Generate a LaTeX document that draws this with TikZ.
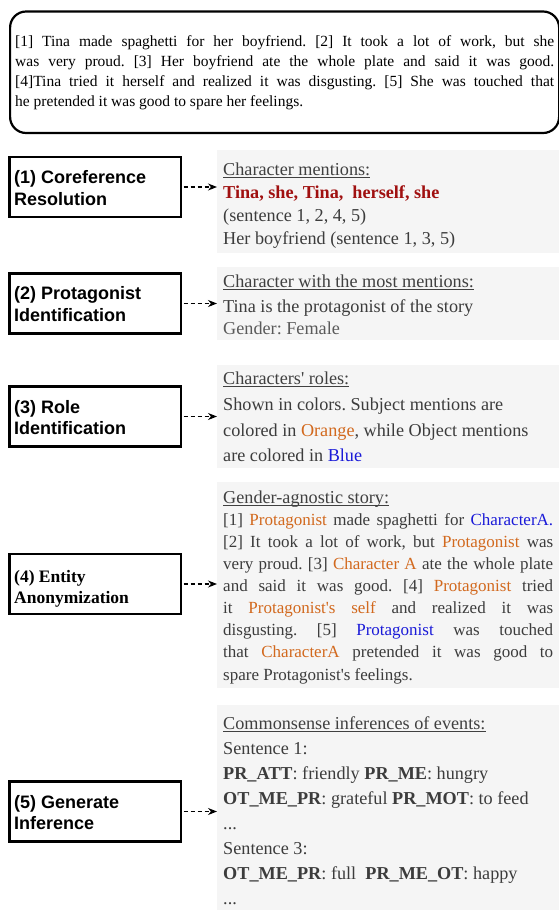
\documentclass[tikz,border=0pt]{standalone}
\usepackage{fontspec}
\setmainfont{Liberation Serif}[Ligatures=TeXOff]
\newfontfamily\arialfam{Liberation Sans}[Ligatures=TeXOff]
\usetikzlibrary{arrows.meta}
\definecolor{panelgray}{HTML}{F5F5F5}
\definecolor{bodygray}{HTML}{3C3C3C}
\definecolor{titlegray}{HTML}{404040}
\definecolor{lightgr}{HTML}{5A5A5A}
\definecolor{orng}{HTML}{D2691E}
\definecolor{blu}{HTML}{1A1AD8}
\definecolor{dred}{HTML}{A01010}
\frenchspacing
\newcommand\myStoryFont{\frenchspacing\fontsize{15.5pt}{20pt}\selectfont}
\newcommand\myPanelFont{\frenchspacing\fontsize{18.2pt}{22pt}\selectfont}
\newcommand\myAnonFont{\frenchspacing\fontsize{17pt}{22pt}\selectfont}
\newcommand\myBoxFont{\arialfam\bfseries\fontsize{18pt}{22pt}\selectfont}
\newcommand\myBoxSerif{\rmfamily\bfseries\fontsize{17.5pt}{22pt}\selectfont}
\newcommand\myO[1]{{\color{orng}#1}}
\newcommand\myB[1]{{\color{blu}#1}}
\newsavebox\myULbox
\newcommand\myUL[1]{\sbox\myULbox{#1}\rlap{\rule[-2.4pt]{\wd\myULbox}{0.9pt}}\usebox\myULbox}
\begin{document}
\begin{tikzpicture}[x=1pt,y=-1pt,
  lbox/.style={draw, line width=2.2pt, minimum width=171.5pt, minimum height=60pt, inner sep=0pt},
  panel/.style={fill=panelgray, draw=none, inner sep=0pt, anchor=north west, minimum width=342pt},
  conn/.style={line width=1.1pt, dash pattern=on 4pt off 3pt, shorten <=1.5pt, -{Stealth[length=9pt,width=7pt]}},
  txt/.style={anchor=base west, inner sep=0pt},
  stxt/.style={txt, font=\myStoryFont},
  ptxt/.style={txt, font=\myPanelFont, text=bodygray},
  ttxt/.style={txt, font=\myPanelFont, text=titlegray},
  atxt/.style={txt, font=\myAnonFont, text=bodygray},
  btxt/.style={txt, font=\myBoxFont},
  bstxt/.style={txt, font=\myBoxSerif}]
\useasboundingbox (0,0) rectangle (559,910);

% story box
\node[draw, line width=2.2pt, rounded corners=16pt, minimum width=549pt, minimum height=121.5pt,
      inner sep=0pt, anchor=north west] (story) at (9,10.4) {};
\node[stxt] (s1) at (15,46.7) {\makebox[539pt][s]{[1] Tina made spaghetti for her boyfriend. [2] It took a lot of work, but she}};
\node[stxt] (s2) at (15,66.6) {\makebox[539pt][s]{was very proud. [3] Her boyfriend ate the whole plate and said it was good.}};
\node[stxt] (s3) at (15,86.5) {\makebox[539pt][s]{[4]Tina tried it herself and realized it was disgusting. [5] She was touched that}};
\node[stxt] (s4) at (15,106.4) {he pretended it was good to spare her feelings.};

% panels
\node[panel, minimum height=103pt] (p1) at (217,150) {};
\node[panel, minimum height=73pt] (p2) at (217,267) {};
\node[panel, minimum height=103pt] (p3) at (217,365) {};
\node[panel, minimum height=206pt] (p4) at (217,482) {};
\node[panel, minimum height=205pt] (p5) at (217,705) {};

% left boxes
\node[lbox] (b1) at (95.25,187) {};
\node[lbox] (b2) at (95.25,303.5) {};
\node[lbox] (b3) at (95.25,416.5) {};
\node[lbox] (b4) at (95.25,584) {};
\node[lbox] (b5) at (95.25,811.5) {};

\node[btxt] (b1a) at (14,183) {(1) Coreference};
\node[btxt] (b1b) at (14,205.5) {Resolution};
\node[btxt] (b2a) at (14,299.5) {(2) Protagonist};
\node[btxt] (b2b) at (14,321) {Identification};
\node[btxt] (b3a) at (14,413) {(3) Role};
\node[btxt] (b3b) at (14,434.5) {Identification};
\node[bstxt] (b4a) at (14,582) {(4) Entity};
\node[bstxt] (b4b) at (14,603.5) {Anonymization};
\node[btxt] (b5a) at (14,808) {(5) Generate};
\node[btxt] (b5b) at (14,829.5) {Inference};

% connectors
\draw[conn] (b1.east) -- (b1.east -| p1.west);
\draw[conn] (b2.east) -- (b2.east -| p2.west);
\draw[conn] (b3.east) -- (b3.east -| p3.west);
\draw[conn] (b4.east) -- (b4.east -| p4.west);
\draw[conn] (b5.east) -- (b5.east -| p5.west);

% panel 1
\node[ttxt] (t1a) at (223,175.5) {\myUL{Character mentions:}};
\node[ptxt, text=dred] (t1b) at (223,198.5) {\bfseries Tina, she, Tina,\ \ herself, she};
\node[ptxt] (t1c) at (223,221.5) {(sentence 1, 2, 4, 5)};
\node[ptxt] (t1d) at (223,244.5) {Her boyfriend (sentence 1, 3, 5)};

% panel 2
\node[ttxt] (t2a) at (223,287) {\myUL{Character with the most mentions:}};
\node[ptxt] (t2b) at (223,312) {Tina is the protagonist of the story};
\node[ptxt, text=lightgr] (t2c) at (223,334.5) {Gender: Female};

% panel 3
\node[ttxt] (t3a) at (223,384.5) {\myUL{Characters' roles:}};
\node[ptxt] (t3b) at (223,410.5) {Shown in colors. Subject mentions are};
\node[ptxt] (t3c) at (223,436) {colored in \myO{Orange}, while Object mentions};
\node[ptxt] (t3d) at (223,461.5) {are colored in \myB{Blue}};

% panel 4
\node[ttxt] (t4a) at (223,503.5) {\myUL{Gender-agnostic story:}};
\node[atxt] (t4b) at (223,525) {\makebox[330pt][s]{[1] \myO{Protagonist} made spaghetti for \myB{CharacterA.}}};
\node[atxt] (t4c) at (223,547.15) {\makebox[330pt][s]{[2] It took a lot of work, but \myO{Protagonist} was}};
\node[atxt] (t4d) at (223,569.3) {\makebox[330pt][s]{very proud. [3] \myO{Character A} ate the whole plate}};
\node[atxt] (t4e) at (223,591.45) {\makebox[330pt][s]{and said it was good. [4] \myO{Protagonist} tried}};
\node[atxt] (t4f) at (223,613.6) {\makebox[330pt][s]{it \myO{Protagonist's self} and realized it was}};
\node[atxt] (t4g) at (223,635.75) {\makebox[330pt][s]{disgusting. [5] \myB{Protagonist} was touched}};
\node[atxt] (t4h) at (223,657.9) {\makebox[330pt][s]{that \myO{CharacterA} pretended it was good to}};
\node[atxt] (t4i) at (223,680.05) {spare Protagonist's feelings.};

% panel 5
\node[ttxt] (t5a) at (223,729.5) {\myUL{Commonsense inferences of events:}};
\node[ptxt] (t5b) at (223,754.5) {Sentence 1:};
\node[ptxt] (t5c) at (223,779.5) {\textbf{PR\_ATT}: friendly \textbf{PR\_ME}: hungry};
\node[ptxt] (t5d) at (223,804.5) {\textbf{OT\_ME\_PR}: grateful \textbf{PR\_MOT}: to feed};
\node[ptxt] (t5e) at (223,829.5) {...};
\node[ptxt] (t5f) at (223,854.5) {Sentence 3:};
\node[ptxt] (t5g) at (223,879.5) {\textbf{OT\_ME\_PR}: full\ \ \textbf{PR\_ME\_OT}: happy};
\node[ptxt] (t5h) at (223,904.5) {...};
\end{tikzpicture}
\end{document}
